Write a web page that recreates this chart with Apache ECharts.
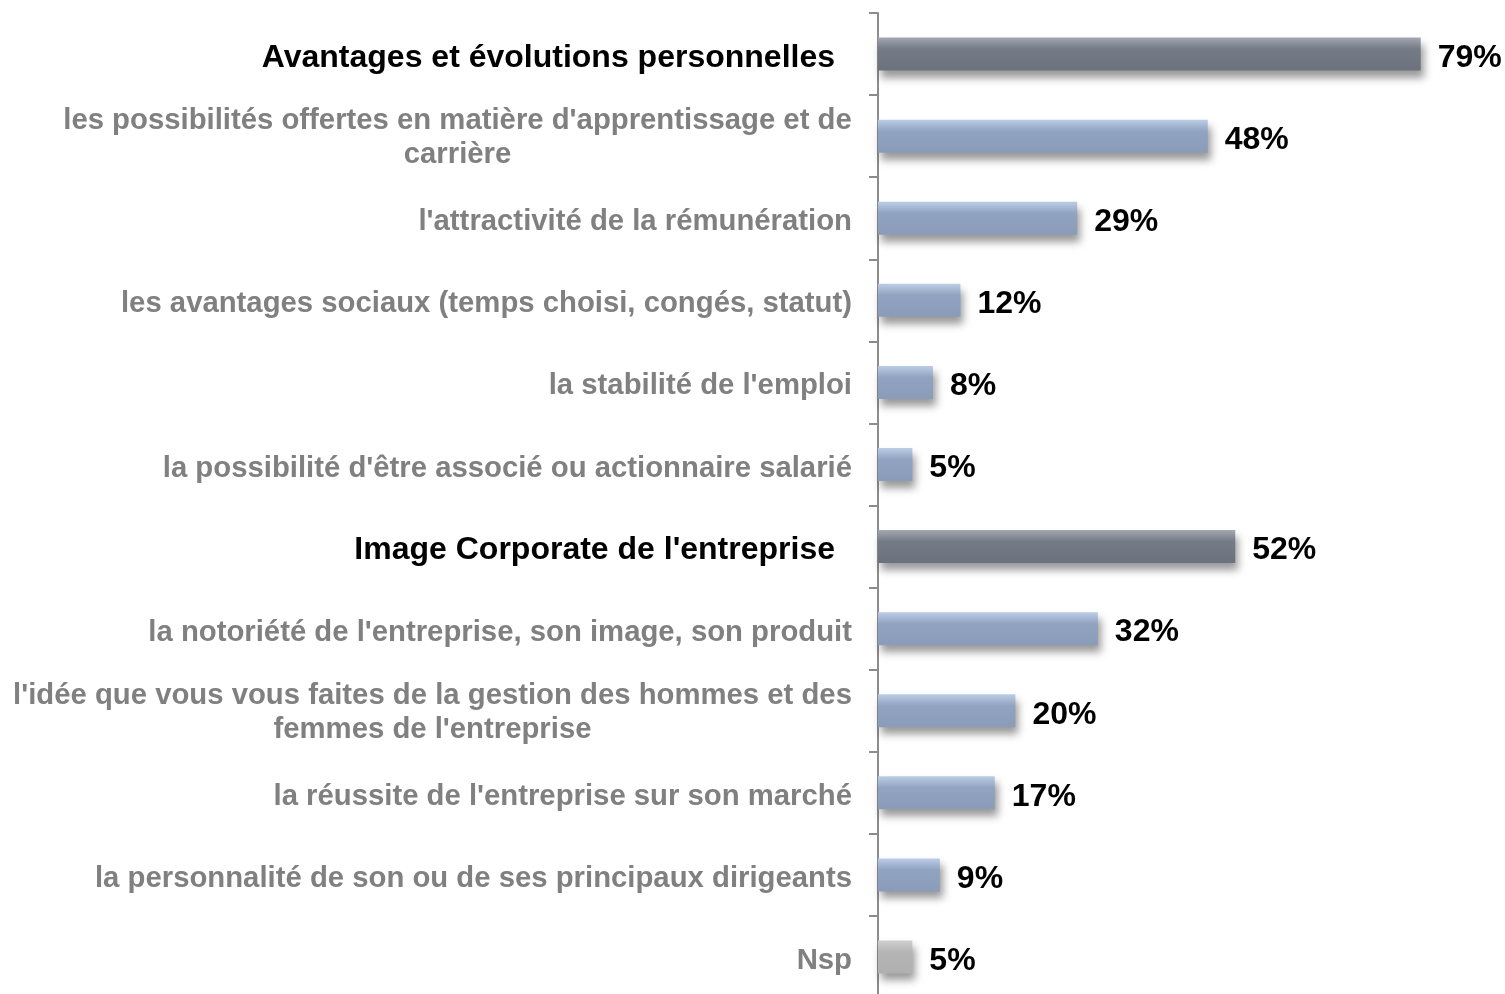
<!DOCTYPE html>
<html>
<head>
<meta charset="utf-8">
<script src="https://cdn.jsdelivr.net/npm/echarts@6/dist/echarts.min.js"></script>
<style>
html,body{margin:0;padding:0;background:#fff;}
#chart{width:1505px;height:994px;}
</style>
</head>
<body>
<div id="chart"></div>
<script>
// chart data
let categories = [
  "Avantages et évolutions personnelles",
  "les possibilités offertes en matière d'apprentissage et de\ncarrière",
  "l'attractivité de la rémunération",
  "les avantages sociaux (temps choisi, congés, statut)",
  "la stabilité de l'emploi",
  "la possibilité d'être associé ou actionnaire salarié",
  "Image Corporate de l'entreprise",
  "la notoriété de l'entreprise, son image, son produit",
  "l'idée que vous vous faites de la gestion des hommes et des\nfemmes de l'entreprise",
  "la réussite de l'entreprise sur son marché",
  "la personnalité de son ou de ses principaux dirigeants",
  "Nsp"
];
let values = [79, 48, 29, 12, 8, 5, 52, 32, 20, 17, 9, 5];
// group = header row, item = detail row, nsp = no answer
let kinds = ["group", "item", "item", "item", "item", "item", "group", "item", "item", "item", "item", "nsp"];

let fontFam = "Arial, 'Liberation Sans', sans-serif";
let labelSize = 29.3;

function grad(c0, c1, c2) {
  return new echarts.graphic.LinearGradient(0, 0, 0, 1, [
    { offset: 0, color: c0 },
    { offset: 0.35, color: c1 },
    { offset: 1, color: c2 }
  ]);
}
let fills = {
  group: grad('#a3a8b1', '#747a86', '#6c727d'),
  item: grad('#bccde6', '#90a3c0', '#8a9cb8'),
  nsp: grad('#cfcfcf', '#b5b5b5', '#b0b0b0')
};

let barData = values.map((v, i) => ({
  value: v,
  itemStyle: { color: fills[kinds[i]] }
}));

// measure widest line of multi-line labels so lines can be centred in a block
let ctx = document.createElement('canvas').getContext('2d');
ctx.font = 'bold ' + labelSize + 'px ' + fontFam;
let rich = {
  h: { fontFamily: fontFam, fontWeight: 'bold', fontSize: 32, color: '#000', padding: [8, 17, 0, 0] },
  g: { fontFamily: fontFam, fontWeight: 'bold', fontSize: labelSize, color: '#808080', padding: [8, 0, 0, 0] }
};
categories.forEach((c, i) => {
  let lines = c.split('\n');
  if (lines.length > 1) {
    let w = Math.max.apply(null, lines.map(l => ctx.measureText(l).width));
    rich['m' + i] = { fontFamily: fontFam, fontWeight: 'bold', fontSize: labelSize, color: '#808080',
      width: Math.ceil(w), align: 'center', lineHeight: 34, padding: [4, 0, 0, 0] };
  }
});

let myChart = echarts.init(document.getElementById('chart'));
let option = {
  animation: false,
  grid: { left: 878, top: 13, width: 687, height: 985, outerBoundsMode: 'none', containLabel: false },
  xAxis: { type: 'value', min: 0, max: 100, show: false },
  yAxis: {
    type: 'category',
    inverse: true,
    data: categories,
    axisLine: { show: true, lineStyle: { color: '#8c8c8c', width: 2 } },
    axisTick: { show: true, inside: false, length: 9, lineStyle: { color: '#8c8c8c', width: 2 } },
    axisLabel: {
      margin: 26,
      formatter: function (val, idx) {
        if (kinds[idx] === 'group') return '{h|' + val + '}';
        let lines = val.split('\n');
        if (lines.length > 1) {
          return lines.map(l => '{m' + idx + '|' + l + '}').join('\n');
        }
        return '{g|' + val + '}';
      },
      rich: rich
    }
  },
  series: [{
    type: 'bar',
    barWidth: 33,
    data: barData,
    itemStyle: {
      shadowColor: 'rgba(0,0,0,0.4)',
      shadowBlur: 8,
      shadowOffsetX: 3,
      shadowOffsetY: 7
    },
    label: {
      show: true,
      position: 'right',
      distance: 17,
      offset: [0, 4],
      formatter: '{c}%',
      fontFamily: fontFam,
      fontWeight: 'bold',
      fontSize: 32,
      color: '#000'
    }
  }]
};
myChart.setOption(option);
</script>
</body>
</html>
